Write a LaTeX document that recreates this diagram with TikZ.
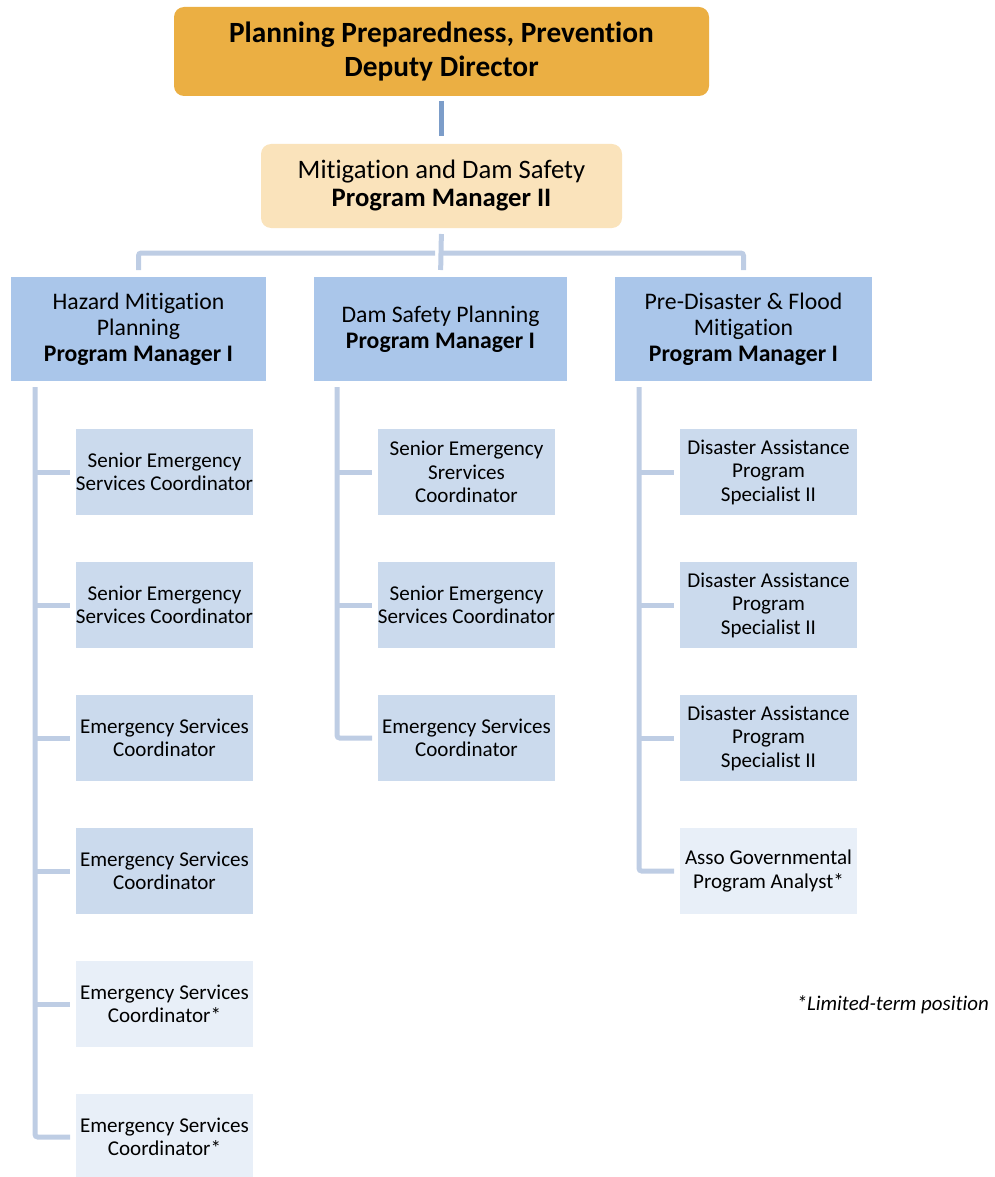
\documentclass[tikz,border=0pt]{standalone}
\usepackage{fontspec}
\setmainfont{Carlito}[Ligatures=NoCommon]
\usepackage{tikz}

\definecolor{dirgold}{RGB}{235,175,67}
\definecolor{mgrsand}{RGB}{250,227,187}
\definecolor{pmblue}{RGB}{170,198,234}
\definecolor{staffblue}{RGB}{203,218,237}
\definecolor{ltblue}{RGB}{232,239,248}
\definecolor{topline}{RGB}{124,157,201}
\definecolor{orgline}{RGB}{190,205,228}

\begin{document}
\begin{tikzpicture}[x=0.75pt, y=-0.75pt,
  every node/.style={align=center, inner sep=0pt, outer sep=0pt},
  director/.style={fill=dirgold, rounded corners=7.5pt, minimum width=401.25pt, minimum height=66.75pt, font=\fontsize{22}{26}\selectfont\bfseries},
  manager/.style={fill=mgrsand, rounded corners=7.5pt, minimum width=270.75pt, minimum height=63pt, font=\fontsize{20}{21}\selectfont},
  pmbox/.style={fill=pmblue, minimum height=78pt, font=\fontsize{17.8}{19.5}\selectfont},
  staff/.style={fill=staffblue, minimum width=132.75pt, minimum height=64.5pt, font=\fontsize{15.8}{17.6}\selectfont},
  ltstaff/.style={staff, fill=ltblue},
  linkline/.style={draw=topline, line width=3.75pt},
  busline/.style={draw=orgline, line width=3.75pt, rounded corners=2pt},
  kidline/.style={draw=orgline, line width=3.75pt, rounded corners=2pt}]
\useasboundingbox (0,0) rectangle (995,1177);

\node[director] (dir) at (441.5,51.5) {Planning Preparedness, Prevention\\Deputy Director};
\node[manager] (mds) at (441.5,186) {Mitigation and Dam Safety\\\textbf{Program Manager II}};

\node[pmbox, minimum width=191.25pt] (hmp) at (138.5,329) {Hazard Mitigation\\Planning\\\textbf{Program Manager I}};
\node[pmbox, minimum width=189.75pt] (dsp) at (440.5,329) {Dam Safety Planning\\\textbf{Program Manager I}};
\node[pmbox, minimum width=192.75pt] (pdf) at (743.5,329) {Pre-Disaster \& Flood\\Mitigation\\\textbf{Program Manager I}};

\node[staff] (h1) at (164.5,472) {Senior Emergency\\Services Coordinator};
\node[staff] (h2) at (164.5,605) {Senior Emergency\\Services Coordinator};
\node[staff] (h3) at (164.5,738) {Emergency Services\\Coordinator};
\node[staff] (h4) at (164.5,871) {Emergency Services\\Coordinator};
\node[ltstaff] (h5) at (164.5,1004) {Emergency Services\\Coordinator*};
\node[ltstaff] (h6) at (164.5,1137) {Emergency Services\\Coordinator*};

\node[staff] (d1) at (466.5,472) {Senior Emergency\\Srervices\\Coordinator};
\node[staff] (d2) at (466.5,605) {Senior Emergency\\Services Coordinator};
\node[staff] (d3) at (466.5,738) {Emergency Services\\Coordinator};

\node[staff] (p1) at (768.5,472) {Disaster Assistance\\Program\\Specialist II};
\node[staff] (p2) at (768.5,605) {Disaster Assistance\\Program\\Specialist II};
\node[staff] (p3) at (768.5,738) {Disaster Assistance\\Program\\Specialist II};
\node[ltstaff] (p4) at (768.5,871) {Asso Governmental\\Program Analyst*};

\node[anchor=east, font=\fontsize{15.7}{18}\selectfont\itshape] (note) at (989,1005) {*Limited-term position};

\coordinate (bus) at (441,253);
\coordinate (hs) at (35,387);
\coordinate (ds) at (337,387);
\coordinate (ps) at (639,387);

\draw[linkline, shorten <=3.75pt, shorten >=6pt] (dir.south) -- (mds.north);
\draw[busline, shorten <=4.5pt] (mds.south) -- (bus);
\draw[busline, shorten <=4.5pt, shorten >=5.25pt] (bus) -| (hmp.north);
\draw[busline, shorten >=5.25pt] (bus) -| (pdf.north);
\draw[busline, shorten >=5.25pt] (bus) -- (dsp.north);

\draw[kidline, shorten >=4.5pt] (hs) |- (h6.west);
\draw[kidline, shorten >=4.5pt] (hs |- h1.west) -- (h1.west);
\draw[kidline, shorten >=4.5pt] (hs |- h2.west) -- (h2.west);
\draw[kidline, shorten >=4.5pt] (hs |- h3.west) -- (h3.west);
\draw[kidline, shorten >=4.5pt] (hs |- h4.west) -- (h4.west);
\draw[kidline, shorten >=4.5pt] (hs |- h5.west) -- (h5.west);

\draw[kidline, shorten >=4.5pt] (ds) |- (d3.west);
\draw[kidline, shorten >=4.5pt] (ds |- d1.west) -- (d1.west);
\draw[kidline, shorten >=4.5pt] (ds |- d2.west) -- (d2.west);

\draw[kidline, shorten >=4.5pt] (ps) |- (p4.west);
\draw[kidline, shorten >=4.5pt] (ps |- p1.west) -- (p1.west);
\draw[kidline, shorten >=4.5pt] (ps |- p2.west) -- (p2.west);
\draw[kidline, shorten >=4.5pt] (ps |- p3.west) -- (p3.west);
\end{tikzpicture}
\end{document}
